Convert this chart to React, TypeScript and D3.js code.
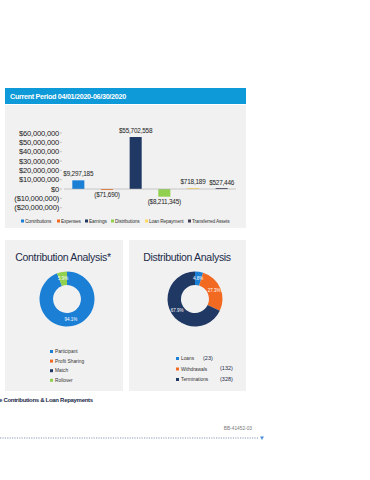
import React from "react";
import * as d3 from "d3";

const barCategories = ["Contributions", "Expenses", "Earnings", "Distributions", "Loan Repayment", "Transferred Assets"];
const barValues = [9297185, -71690, 55702558, -8211345, 718189, 527446];
const barLabels = ["$9,297,185", "($71,690)", "$55,702,558", "($8,211,345)", "$718,189", "$527,446"];
const barColors = ["#1b7fd6", "#f26a21", "#1f3864", "#92d050", "#ffd966", "#3b3b55"];
const yTicks = [60000000, 50000000, 40000000, 30000000, 20000000, 10000000, 0, -10000000, -20000000];
const yTickLabels = ["$60,000,000", "$50,000,000", "$40,000,000", "$30,000,000", "$20,000,000", "$10,000,000", "$0", "($10,000,000)", "($20,000,000)"];

const contribNames = ["Participant", "Profit Sharing", "Match", "Rollover"];
const contribValues = [94.1, 0, 0, 5.9];
const contribColors = ["#1b7fd6", "#f26a21", "#1f3864", "#92d050"];

const distNames = ["Loans", "Withdrawals", "Terminations"];
const distCounts = [23, 132, 328];
const distColors = ["#1b7fd6", "#f26a21", "#1f3864"];

const FONT = "'Liberation Sans', Arial, sans-serif";
const NAVY = "#1c2b4a";

function Donut({ cx, cy, values, colors, labels }: { cx: number; cy: number; values: number[]; colors: string[]; labels: string[] }) {
  const pie = d3.pie<number>().sort(null).value((d) => d);
  const arcs = pie(values);
  const arc = d3.arc<d3.PieArcDatum<number>>().innerRadius(14).outerRadius(27.5);
  const labelArc = d3.arc<d3.PieArcDatum<number>>().innerRadius(21).outerRadius(21);
  return (
    <g transform={`translate(${cx},${cy})`}>
      {arcs.map((a, i) => (
        <path key={i} d={arc(a) || ""} fill={colors[i]} />
      ))}
      {arcs.map((a, i) =>
        a.value > 0 ? (
          <text key={"l" + i} transform={`translate(${labelArc.centroid(a)})`} textAnchor="middle" dy="0.35em" fontSize={4.5} fill="#fff" fontFamily={FONT}>
            {labels[i]}
          </text>
        ) : null
      )}
    </g>
  );
}

export default function App() {
  const x = d3.scaleBand<string>().domain(barCategories).range([64, 236]).paddingInner(0.58).paddingOuter(0.29);
  const y = d3.scaleLinear().domain([-20000000, 60000000]).range([207.7, 133]);

  const distTotal = d3.sum(distCounts);
  const distPct = distCounts.map((c) => ((c / distTotal) * 100).toFixed(1) + "%");
  const contribPct = contribValues.map((v) => v.toFixed(1) + "%");

  const legendX = [21, 57, 85, 111, 145, 188];

  return (
    <svg width={370} height={480} style={{ position: "absolute", left: 0, top: 0, background: "#fff" }} fontFamily={FONT}>
      {/* Header */}
      <rect x={5} y={88} width={241} height={16} fill="#0e9ad8" />
      <text x={10} y={99} fontSize={7.2} fontWeight="bold" fill="#fff" letterSpacing={-0.3}>
        Current Period 04/01/2020-06/30/2020
      </text>
      {/* bar panel */}
      <rect x={5} y={105} width={241} height={123} fill="#f1f1f1" />
      {/* y ticks */}
      {yTicks.map((t, i) => (
        <g key={t}>
          <line x1={60} x2={62} y1={y(t)} y2={y(t)} stroke="#999" strokeWidth={0.5} />
          <text x={59} y={y(t)} dy="0.35em" textAnchor="end" fontSize={7.6} fill="#222" letterSpacing={-0.2}>
            {yTickLabels[i]}
          </text>
        </g>
      ))}
      {/* bars */}
      {barCategories.map((c, i) => {
        const v = barValues[i];
        const h = Math.max(Math.abs(y(v) - y(0)), 1);
        return <rect key={c} x={x(c)} y={v >= 0 ? y(0) - h : y(0)} width={x.bandwidth()} height={h} fill={barColors[i]} />;
      })}
      <line x1={64} x2={236} y1={y(0)} y2={y(0)} stroke="#aaa" strokeWidth={0.6} />
      {/* value labels */}
      {barCategories.map((c, i) => {
        const v = barValues[i];
        const cx = (x(c) || 0) + x.bandwidth() / 2;
        const ly = v >= 0 ? y(v) - 4 : y(v) + 7.5;
        return (
          <text key={"v" + c} x={cx} y={ly} textAnchor="middle" fontSize={6.4} fill="#222" letterSpacing={-0.2}>
            {barLabels[i]}
          </text>
        );
      })}
      {/* legend */}
      {barCategories.map((c, i) => (
        <g key={"lg" + c}>
          <rect x={legendX[i]} y={219.5} width={3} height={3} fill={barColors[i]} />
          <text x={legendX[i] + 4} y={222.6} fontSize={4.8} fill="#333" letterSpacing={-0.15}>
            {c}
          </text>
        </g>
      ))}

      {/* Contribution panel */}
      <rect x={5} y={240} width={118} height={151} fill="#f1f1f1" />
      <text x={63} y={261} textAnchor="middle" fontSize={10.5} fill={NAVY} letterSpacing={-0.3}>
        Contribution Analysis*
      </text>
      <Donut cx={67} cy={299} values={contribValues} colors={contribColors} labels={contribPct} />
      {contribNames.map((n, i) => (
        <g key={"cl" + n}>
          <rect x={50} y={350 + i * 9.6} width={3} height={3} fill={contribColors[i]} />
          <text x={55} y={353.2 + i * 9.6} fontSize={4.8} fill="#333">
            {n}
          </text>
        </g>
      ))}

      {/* Distribution panel */}
      <rect x={129} y={240} width={117} height={151} fill="#f1f1f1" />
      <text x={187} y={261} textAnchor="middle" fontSize={10.5} fill={NAVY} letterSpacing={-0.3}>
        Distribution Analysis
      </text>
      <Donut cx={195} cy={299} values={distCounts} colors={distColors} labels={distPct} />
      {distNames.map((n, i) => (
        <g key={"dl" + n}>
          <rect x={176} y={357 + i * 10.5} width={3} height={3} fill={distColors[i]} />
          <text x={181} y={360.2 + i * 10.5} fontSize={4.8} fill="#333">
            {n}
          </text>
          <text x={i === 0 ? 203 : 220} y={359.5 + i * 10.5} fontSize={5.5} fill={NAVY}>
            ({distCounts[i]})
          </text>
        </g>
      ))}

      {/* footer */}
      <text x={-1} y={402} fontSize={6} fontWeight="bold" fill={NAVY} letterSpacing={-0.3}>
        e Contributions &amp; Loan Repayments
      </text>
      <text x={252} y={430} textAnchor="end" fontSize={4.8} fill="#777">
        BB-41452-03
      </text>
      <line x1={0} x2={258} y1={438} y2={438} stroke="#aebccc" strokeWidth={1.4} strokeDasharray="1.2,1.2" />
      <path d="M260,436.5 L264,436.5 L262,440 Z" fill="#4a90d9" />
    </svg>
  );
}
